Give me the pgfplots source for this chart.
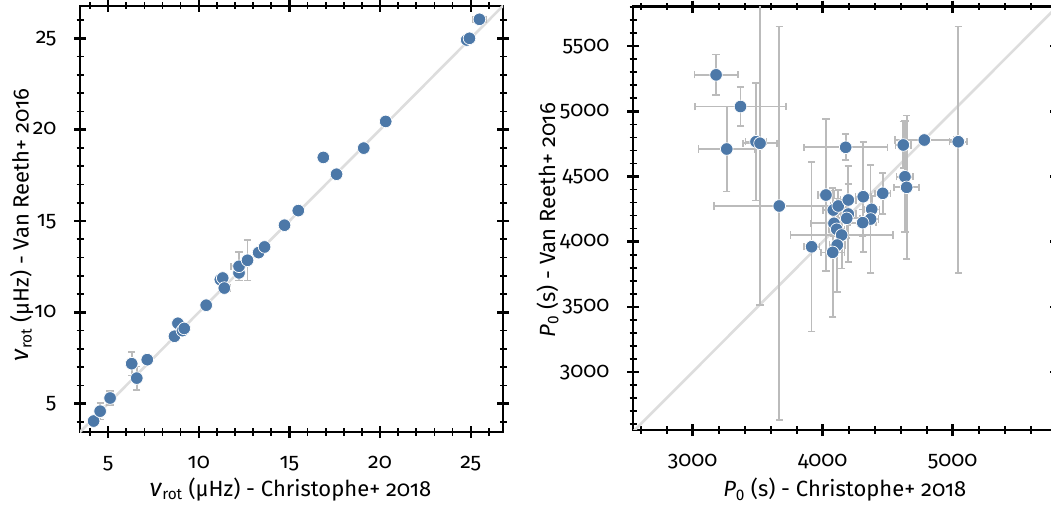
\documentclass[border=0pt]{standalone}
\usepackage{fontspec}
\IfFontExistsTF{Fira Sans Book}
 {\setmainfont{Fira Sans Book}[Numbers=OldStyle, ItalicFont={Fira Sans Book Italic}]}
 {\setmainfont{Fira Sans}[Numbers=OldStyle]}
\usepackage{pgfplots}
\pgfplotsset{compat=1.18}
\usepackage{pgfplotstable}

\definecolor{dot}{HTML}{4C78A8}
\definecolor{ebar}{HTML}{BBBBBB}
\definecolor{diag}{HTML}{DDDDDD}

\newcommand{\nusym}{{\fontsize{25}{26}\selectfont\textit{ν}}\textsubscript{rot}}
\newcommand{\psym}{\textit{P}\textsubscript{\addfontfeatures{Numbers=Lining}0}}

\pgfplotstableread{
x y ex ey
4.20 4.05 0.10 0.10
4.56 4.59 0.10 0.45
5.11 5.31 0.10 0.40
6.30 7.19 0.10 0.65
6.58 6.40 0.10 0.64
7.16 7.41 0.10 0.10
8.66 8.69 0.10 0.10
8.85 9.40 0.10 0.10
9.10 9.00 0.10 0.10
9.20 9.12 0.10 0.10
10.41 10.39 0.10 0.10
11.19 11.79 0.10 0.10
11.32 11.88 0.10 0.10
11.41 11.33 0.30 0.10
12.22 12.16 0.10 0.10
12.22 12.52 0.46 0.78
12.69 12.85 0.10 1.10
13.30 13.27 0.10 0.10
13.63 13.58 0.10 0.10
14.73 14.77 0.10 0.10
15.49 15.57 0.10 0.10
16.87 18.48 0.10 0.10
17.60 17.56 0.10 0.10
19.10 18.99 0.10 0.10
20.31 20.45 0.10 0.10
24.78 24.91 0.10 0.10
24.93 25.00 0.10 0.10
25.48 26.04 0.37 0.10
}\nurot

\pgfplotstableread{
x y exp exm eyp eym
3180 5280 167 167 156 156
3368 5037 348 348 148 148
3262 4711 218 218 326 326
3487 4767 80 80 451 451
3518 4755 131 131 1240 1240
3666 4274 502 502 1376 1643
4177 4724 322 322 100 100
3915 3961 60 60 651 651
4025 4358 60 60 584 584
4082 4243 80 80 150 150
4120 4274 60 60 120 120
4197 4320 60 60 120 120
4197 4212 60 60 366 366
4185 4179 100 100 150 150
4312 4345 60 60 422 422
4462 4371 60 60 156 156
4377 4248 60 60 100 100
4369 4174 60 60 412 412
4308 4146 100 100 100 100
4087 4141 180 180 100 100
4108 4095 60 60 120 120
4146 4051 393 393 256 256
4112 3974 60 60 358 358
4077 3918 90 90 494 494
4620 4742 60 60 179 179
4782 4780 224 224 40 40
5043 4767 67 67 883 1005
4633 4498 64 64 426 426
4646 4417 97 97 550 550
}\pzero

\pgfplotsset{
  panel/.style={
    scale only axis,
    width=423pt,
    anchor=south west,
    axis line style={line width=2.6pt, line cap=rect},
    tick align=center,
    xtick pos=both, ytick pos=both,
    major tick length=12pt,
    minor tick length=7pt,
    tick style={black},
    major tick style={line width=2.4pt},
    minor tick style={line width=1.7pt},
    tick label style={font=\fontsize{21.5}{25}\selectfont},
    xticklabel style={anchor=base, yshift=-30pt},
    yticklabel style={anchor=base east, xshift=-14pt, yshift=-5pt},
    error bars/error bar style={ebar, line width=1.7pt},
    error bars/error mark options={ebar, line width=1.7pt, mark size=3.6pt, rotate=90},
  },
  dots/.style={only marks, mark=*, mark size=6.3pt,
    mark options={fill=dot, draw=white, line width=0.7pt}},
}

\begin{document}
\begin{tikzpicture}
\useasboundingbox (0,0) rectangle (1051pt,506pt);
\fill[white] (0,0) rectangle (1051pt,506pt);

\begin{axis}[panel, at={(80pt,74pt)}, height=426pt,
  xmin=3.45, xmax=26.78, ymin=3.45, ymax=26.77,
  xtick={5,10,15,20,25}, xticklabels={5,10,15,20,25},
  ytick={5,10,15,20,25}, yticklabels={5,10,15,20,25},
  minor xtick={4,6,7,8,9,11,12,13,14,16,17,18,19,21,22,23,24,26},
  minor ytick={4,6,7,8,9,11,12,13,14,16,17,18,19,21,22,23,24,26}]
\addplot[diag, line width=2.6pt] coordinates {(0,0) (30,30)};
\addplot[only marks, mark=none,
  error bars/.cd, x dir=both, x explicit, y dir=both, y explicit]
  table[x=x, y=y, x error=ex, y error=ey] {\nurot};
\addplot[dots] table[x=x, y=y] {\nurot};
\end{axis}

\begin{axis}[panel, at={(633pt,76pt)}, height=423.3pt,
  xmin=2541, xmax=5795, ymin=2555, ymax=5803,
  xtick={3000,4000,5000}, xticklabels={3000,4000,5000},
  ytick={3000,3500,4000,4500,5000,5500},
  yticklabels={3000,3500,4000,4500,5000,5500},
  minor xtick={2600,2800,3200,3400,3600,3800,4200,4400,4600,4800,5200,5400,5600},
  minor ytick={2600,2700,2800,2900,3100,3200,3300,3400,3600,3700,3800,3900,4100,4200,4300,4400,4600,4700,4800,4900,5100,5200,5300,5400,5600,5700,5800}]
\addplot[diag, line width=2.6pt] coordinates {(2000,2000) (6000,6000)};
\addplot[only marks, mark=none,
  error bars/.cd, x dir=both, x explicit, y dir=both, y explicit]
  table[x=x, y=y, x error plus=exp, x error minus=exm,
        y error plus=eyp, y error minus=eym] {\pzero};
\addplot[dots] table[x=x, y=y] {\pzero};
\end{axis}

\node[anchor=base, font=\fontsize{22}{26}\selectfont] at (290.5pt,9.3pt)
  {\nusym{} (μHz) - Christophe+ 2018};
\node[anchor=base, rotate=90, font=\fontsize{22}{26}\selectfont] at (28.5pt,281pt)
  {\nusym{} (μHz) - Van Reeth+ 2016};
\node[anchor=base, font=\fontsize{22}{26}\selectfont] at (844.8pt,9.3pt)
  {\psym{} (s) - Christophe+ 2018};
\node[anchor=base, rotate=90, font=\fontsize{22}{26}\selectfont] at (555pt,286pt)
  {\psym{} (s) - Van Reeth+ 2016};
\end{tikzpicture}
\end{document}
